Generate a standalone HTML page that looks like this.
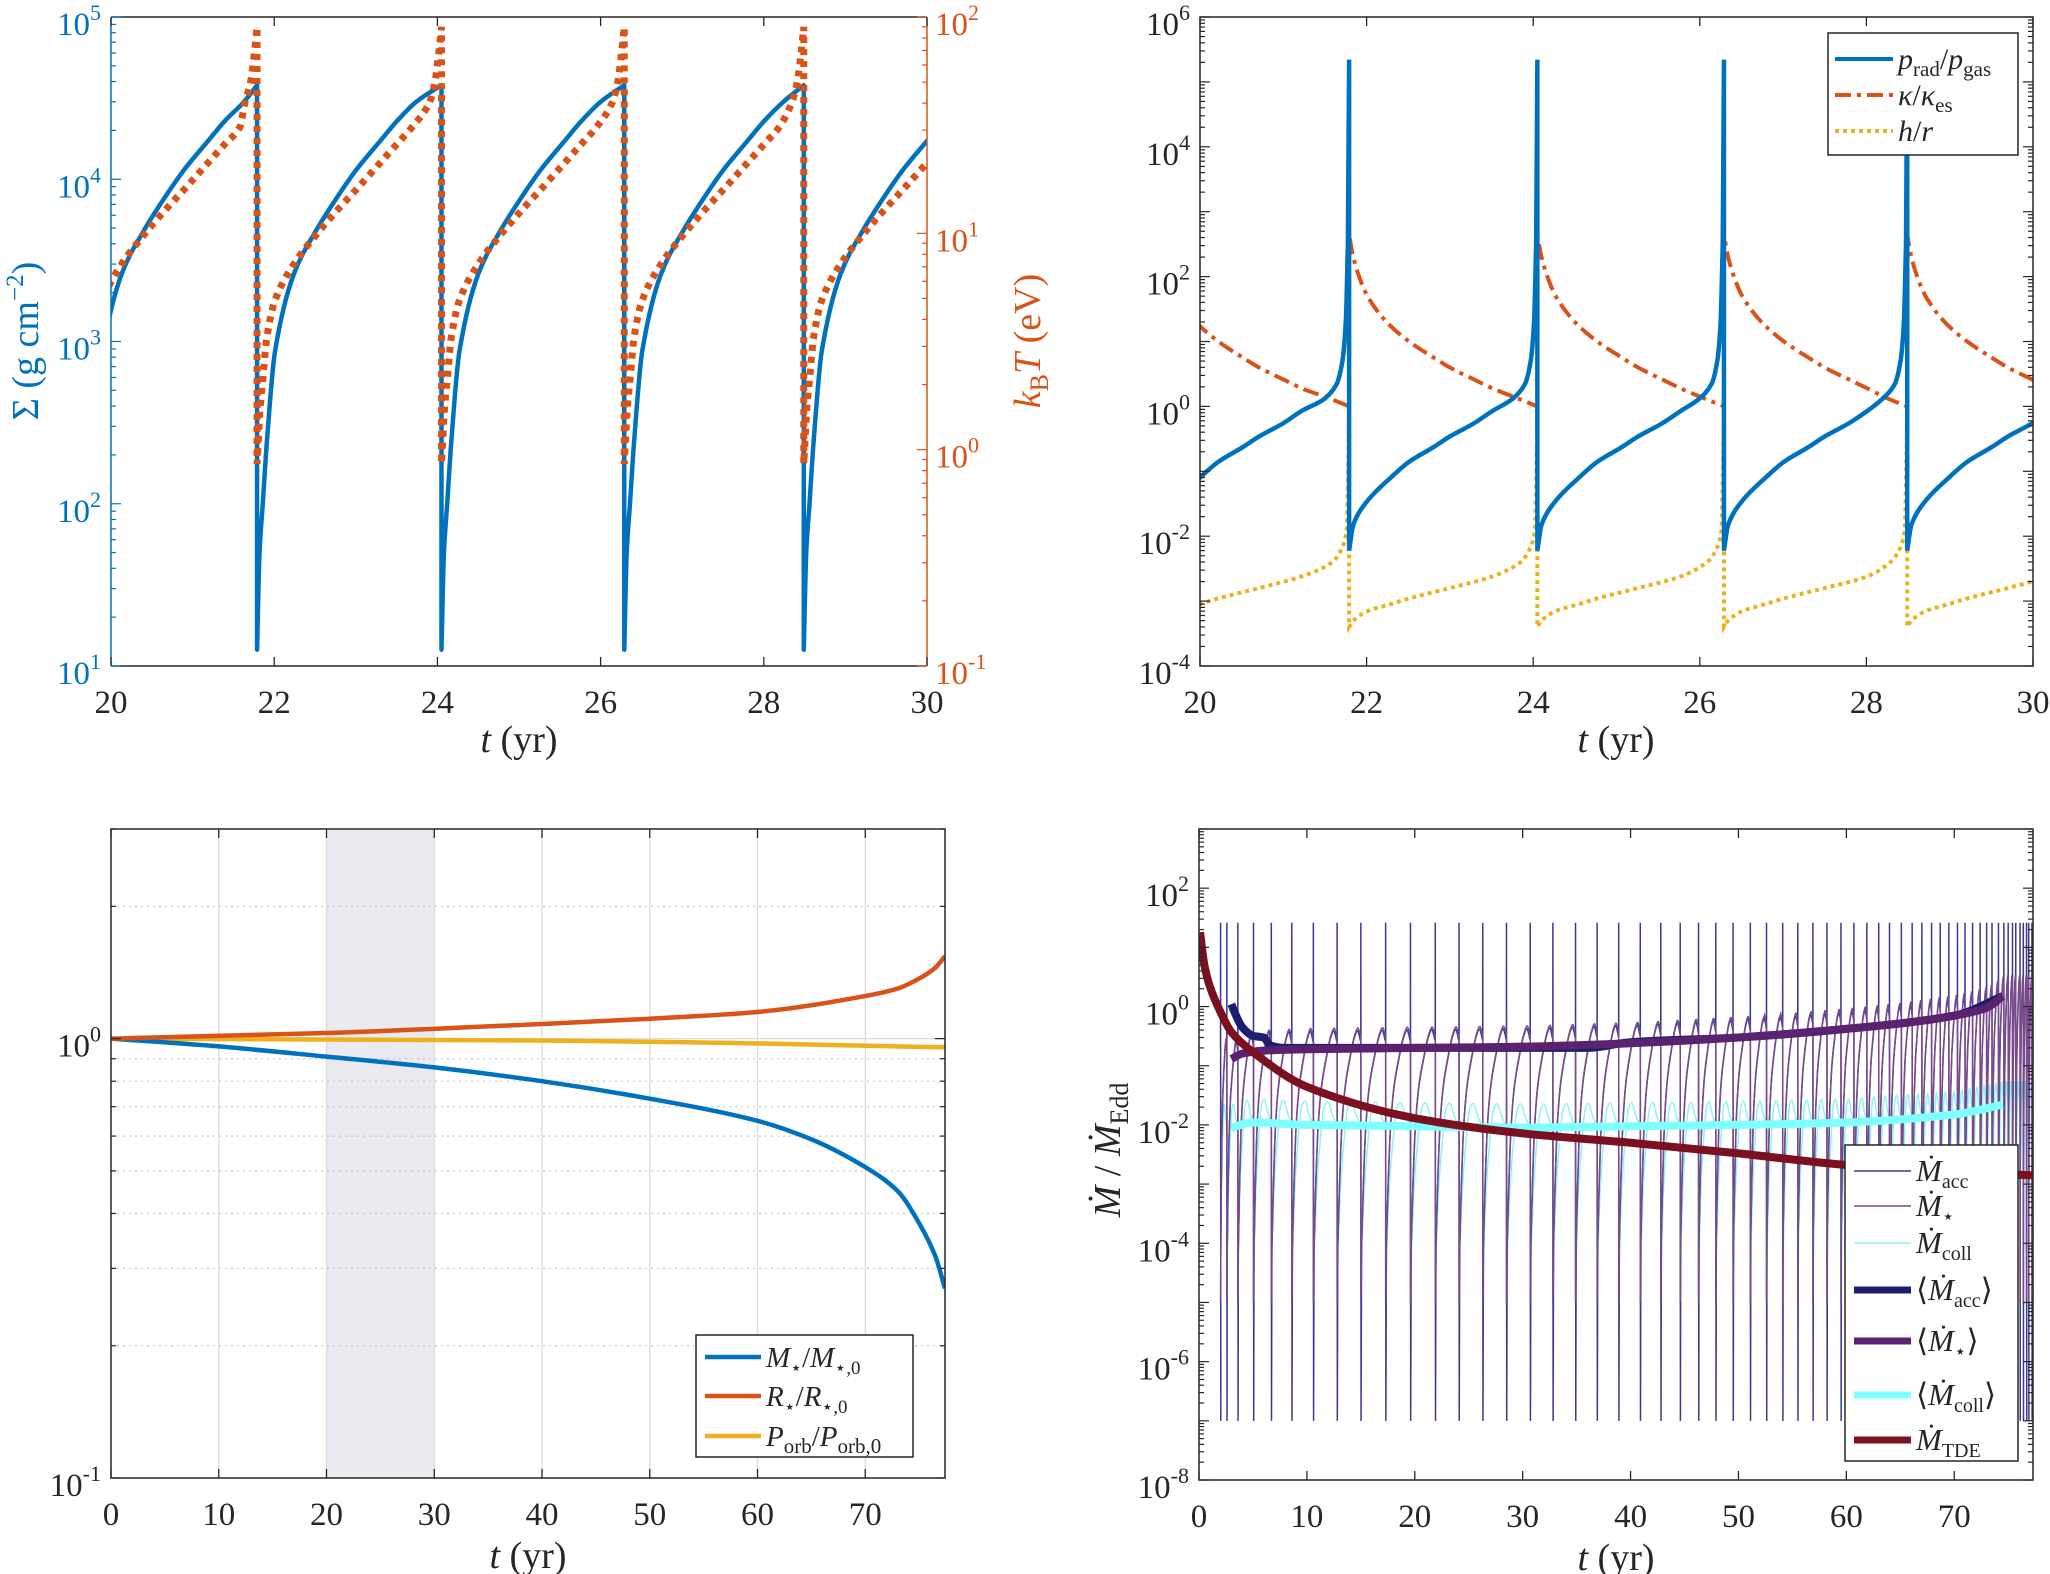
<!DOCTYPE html>
<html><head><meta charset="utf-8"><title>Four-panel disk evolution figure</title>
<style>
html,body{margin:0;padding:0;background:#fff;}
svg{display:block;font-family:"Liberation Serif","DejaVu Serif",serif;}
</style></head>
<body>
<svg id="fig" width="2050" height="1574" viewBox="0 0 2050 1574" xmlns="http://www.w3.org/2000/svg">
<defs>
<clipPath id="cTL"><rect x="111" y="17" width="816" height="649"/></clipPath>
<clipPath id="cTR"><rect x="1200" y="17" width="833" height="649"/></clipPath>
<clipPath id="cBL"><rect x="111" y="829" width="834" height="649"/></clipPath>
<clipPath id="cBR"><rect x="1199" y="829" width="834" height="651"/></clipPath>
</defs>
</svg>
<script>
// ---------- DATA: top-left panel (Sigma and kBT), cycle profiles ----------
const tlCycleStarts = [19.68, 21.79, 24.05, 26.29, 28.49];
const sigmaRiseOffsets = [0, 0.03, 0.07, 0.12, 0.22, 0.45, 0.72, 1.0, 1.22, 1.5, 1.72, 1.95];
const sigmaRiseValues = [12.6, 50, 100, 240, 870, 2600, 4800, 8000, 11500, 17000, 23000, 30000];
const sigmaPreOffsets = [0.0];
const sigmaPreValues = [38000];
const kTRiseOffsets = [0, 0.04, 0.07, 0.12, 0.22, 0.45, 0.72, 1.0, 1.22, 1.5, 1.72, 1.9];
const kTRiseValues = [0.86, 1.6, 2.1, 3.3, 4.9, 7.2, 9.8, 13, 16, 21, 26, 31];
const kTPreOffsets = [0.15, 0.08, 0.03, 0.0];
const kTPreValues = [40, 50, 70, 90];
// ---------- DATA: top-right panel ----------
const trCycleStarts = [19.5, 21.79, 24.05, 26.29, 28.49];
const pRiseOffsets = [0, 0.05, 0.22, 0.5, 0.72, 1.0, 1.22, 1.5, 1.72];
const pRiseValues = [0.006, 0.015, 0.035, 0.08, 0.14, 0.23, 0.35, 0.55, 0.85];
const pPreOffsets = [0.3, 0.15, 0.08, 0.04, 0.015, 0.0];
const pPreValues = [1.3, 2.2, 5, 20, 300, 2.2e5];
const kapRiseOffsets = [0, 0.05, 0.12, 0.22, 0.45, 0.72, 1.0, 1.22, 1.5, 1.72];
const kapRiseValues = [440, 200, 100, 50, 20, 10, 5.8, 3.9, 2.6, 1.9];
const kapPreOffsets = [0.25, 0.0];
const kapPreValues = [1.35, 1.0];
const hrRiseOffsets = [0, 0.05, 0.22, 0.5, 0.72, 1.22, 1.72];
const hrRiseValues = [4e-4, 5e-4, 7e-4, 9e-4, 1.1e-3, 1.6e-3, 2.4e-3];
const hrPreOffsets = [0.2, 0.1, 0.03, 0.008, 0.0];
const hrPreValues = [4e-3, 6e-3, 0.012, 0.2, 1.0];
// ---------- DATA: bottom-left panel ----------
const massT = [0, 10, 20, 30, 40, 50, 60, 65, 70, 73, 75, 76.5, 77.4];
const massV = [1, 0.96, 0.91, 0.86, 0.8, 0.73, 0.65, 0.59, 0.51, 0.45, 0.38, 0.32, 0.27];
const radT = [0, 20, 40, 50, 60, 70, 73, 75, 76.5, 77.4];
const radV = [1, 1.03, 1.08, 1.11, 1.15, 1.25, 1.3, 1.37, 1.45, 1.54];
const porbT = [0, 40, 60, 77.4];
const porbV = [1, 0.99, 0.975, 0.955];
// ---------- DATA: bottom-right panel ----------
const spikeTimes = [2.0, 2.58, 3.6, 5.05, 6.7, 8.6, 10.6, 12.8, 15.0, 17.3, 19.6, 21.9, 24.1, 26.3, 28.5, 30.7, 32.8, 34.9, 36.9, 38.9, 40.9, 42.8, 44.6, 46.3, 47.9, 49.5, 51.1, 52.6, 54.1, 55.5, 56.9, 58.2, 59.5, 60.7, 61.9, 63.0, 64.0, 65.1, 66.1, 67.0, 67.9, 68.7, 69.5, 70.3, 71.0, 71.7, 72.4, 73.0, 73.5, 74.1, 74.6, 75.0, 75.4, 75.7, 76.1, 76.4, 76.7, 76.9, 77.2];
const starFrac = [0, 0.03, 0.1, 0.2, 0.35, 0.55, 0.75, 0.88, 0.97, 1];
const starProfile = [1e-5, 1e-4, 1e-3, 0.01, 0.05, 0.15, 0.35, 0.45, 0.35, 0.3];
const collFrac = [0, 0.05, 0.15, 0.3, 0.45, 0.6, 0.8, 1];
const collProfile = [1e-5, 1e-4, 1e-3, 0.006, 0.02, 0.025, 0.015, 0.01];
const avgAccT = [3, 3.3, 4, 5, 6, 6.6, 8, 20, 36, 40, 50, 60, 70, 74.5];
const avgAccV = [1.1, 0.8, 0.45, 0.32, 0.3, 0.22, 0.2, 0.2, 0.2, 0.25, 0.3, 0.42, 0.7, 1.5];
const avgStarT = [3, 4, 6, 10, 20, 30, 40, 50, 60, 65, 70, 73, 74.5];
const avgStarV = [0.13, 0.16, 0.18, 0.19, 0.2, 0.21, 0.24, 0.3, 0.42, 0.52, 0.7, 0.95, 1.5];
const avgCollT = [3, 5, 10, 20, 30, 40, 50, 60, 70, 74.5];
const avgCollV = [0.009, 0.011, 0.01, 0.0095, 0.009, 0.0095, 0.01, 0.011, 0.015, 0.022];
const tdeT = [0.1, 0.5, 1, 2, 3, 5, 10, 20, 30, 40, 50, 60, 70, 77.3];
const tdeV = [18, 5, 2.2, 0.8, 0.37, 0.17, 0.044, 0.013, 0.0072, 0.005, 0.0033, 0.0021, 0.0016, 0.0014];
const accSpikeTop = 26;
const accSpikeBottom = 1e-7;

const NS = "http://www.w3.org/2000/svg";
const svg = document.getElementById('fig');
function mk(tag, attrs, parent) {
  const e = document.createElementNS(NS, tag);
  for (const k in attrs) e.setAttribute(k, attrs[k]);
  (parent || svg).appendChild(e);
  return e;
}
function lin(d0, d1, p0, p1) { return v => p0 + (v - d0) / (d1 - d0) * (p1 - p0); }
function logs(e0, e1, p0, p1) { return v => p0 + (Math.log10(v) - e0) / (e1 - e0) * (p1 - p0); }
function interpLog(ts, vs, t) {
  if (t <= ts[0]) return vs[0];
  for (let i = 1; i < ts.length; i++) if (t <= ts[i]) {
    const f = (t - ts[i-1]) / (ts[i] - ts[i-1]);
    return Math.pow(10, Math.log10(vs[i-1]) + f * (Math.log10(vs[i]) - Math.log10(vs[i-1])));
  }
  return vs[vs.length-1];
}
// monotone cubic smoothing in screen space; near-vertical segments drawn straight
function pathD(pts, sx, sy) {
  const P = pts.map(p => [sx(p[0]), sy(p[1])]);
  const n = P.length;
  if (n < 2) return '';
  const sec = [];
  for (let i = 0; i < n - 1; i++) {
    const dx = P[i+1][0] - P[i][0];
    sec.push(dx > 1.5 ? (P[i+1][1] - P[i][1]) / dx : null);
  }
  const m = [];
  for (let i = 0; i < n; i++) {
    const a = i > 0 ? sec[i-1] : null, b = i < n - 1 ? sec[i] : null;
    if (a === null && b === null) m.push(0);
    else if (a === null) m.push(b);
    else if (b === null) m.push(a);
    else if (a * b <= 0) m.push(0);
    else m.push(2 * a * b / (a + b));
  }
  let d = 'M' + P[0][0].toFixed(2) + ' ' + P[0][1].toFixed(2);
  for (let i = 0; i < n - 1; i++) {
    const x0 = P[i][0], y0 = P[i][1], x1 = P[i+1][0], y1 = P[i+1][1];
    if (sec[i] === null) { d += 'L' + x1.toFixed(2) + ' ' + y1.toFixed(2); continue; }
    const h = (x1 - x0) / 3;
    d += 'C' + (x0 + h).toFixed(2) + ' ' + (y0 + m[i] * h).toFixed(2) + ' ' + (x1 - h).toFixed(2) + ' ' + (y1 - m[i+1] * h).toFixed(2) + ' ' + x1.toFixed(2) + ' ' + y1.toFixed(2);
  }
  return d;
}
function cyclePoints(starts, tEnd, riseO, riseV, preO, preV) {
  const pts = [];
  for (let c = 0; c < starts.length; c++) {
    const s = starts[c];
    const isLast = c === starts.length - 1;
    const P = isLast ? 99 : starts[c+1] - s;
    const maxPre = Math.max(preO[0], 0.1);
    for (let i = 0; i < riseO.length; i++) {
      if (isLast ? (s + riseO[i] <= tEnd + 0.6) : (riseO[i] < P - maxPre)) pts.push([s + riseO[i], riseV[i]]);
    }
    if (!isLast) for (let i = 0; i < preO.length; i++) pts.push([s + P - preO[i], preV[i]]);
  }
  return pts;
}
function txt(x, y, str, size, anchor, color, parent, italic) {
  const e = mk('text', {x: x, y: y, 'font-size': size, 'text-anchor': anchor || 'start', fill: color || '#262626'}, parent);
  if (italic) e.setAttribute('font-style', 'italic');
  e.textContent = str;
  return e;
}
function powLabel(x, y, exp, anchor, color, parent) {
  const e = mk('text', {x: x, y: y, 'font-size': 33, 'text-anchor': anchor, fill: color}, parent);
  const a = mk('tspan', {}, e); a.textContent = '10';
  const b = mk('tspan', {dy: -15, 'font-size': 22}, e); b.textContent = String(exp);
  return e;
}
function axisBox(g, X0, X1, Y0, Y1, color) {
  mk('rect', {x: X0, y: Y0, width: X1 - X0, height: Y1 - Y0, fill: 'none', stroke: color || '#262626', 'stroke-width': 1.5}, g);
}
function xTicks(g, sx, vals, Y0, Y1, labelY) {
  vals.forEach(v => {
    const x = sx(v);
    mk('line', {x1: x, x2: x, y1: Y1, y2: Y1 - 9, stroke: '#262626', 'stroke-width': 1.3}, g);
    mk('line', {x1: x, x2: x, y1: Y0, y2: Y0 + 9, stroke: '#262626', 'stroke-width': 1.3}, g);
    const t = txt(x, labelY, String(v), 33, 'middle', '#262626', g);
    
    
  });
}
function yLogTicks(g, sy, e0, e1, xEdge, dir, color, minor) {
  for (let e = Math.floor(e0); e <= Math.ceil(e1); e++) {
    for (let m = 1; m <= 9; m++) {
      const v = m * Math.pow(10, e);
      const lv = Math.log10(v);
      if (lv < e0 - 1e-9 || lv > e1 + 1e-9) continue;
      if (m > 1 && !minor) continue;
      const y = sy(v);
      mk('line', {x1: xEdge, x2: xEdge + dir * (m === 1 ? 10 : 5), y1: y, y2: y, stroke: color, 'stroke-width': 1.2}, g);
    }
  }
}
function xlabel(g, cx, y) {
  const e = mk('text', {x: cx, y: y, 'font-size': 38, 'text-anchor': 'middle', fill: '#262626'}, g);
  const a = mk('tspan', {'font-style': 'italic'}, e); a.textContent = 't';
  const b = mk('tspan', {}, e); b.textContent = ' (yr)';
  
  
}

// ================= TOP LEFT =================
(function () {
  const X0 = 111, X1 = 927, Y0 = 17, Y1 = 666;
  const g = mk('g', {});
  
  
  const sx = lin(20, 30, X0, X1), syL = logs(1, 5, Y1, Y0), syR = logs(-1, 2, Y1, Y0);
  const pl = mk('g', {'clip-path': 'url(#cTL)'}, g);
  const sig = cyclePoints(tlCycleStarts, 30, sigmaRiseOffsets, sigmaRiseValues, sigmaPreOffsets, sigmaPreValues);
  const kT = cyclePoints(tlCycleStarts, 30, kTRiseOffsets, kTRiseValues, kTPreOffsets, kTPreValues);
  const l1 = mk('path', {d: pathD(sig, sx, syL), fill: 'none', stroke: '#0072BD', 'stroke-width': 4.5, 'stroke-linejoin': 'round'}, pl);
  
  
  const l2 = mk('path', {d: pathD(kT, sx, syR), fill: 'none', stroke: '#D95319', 'stroke-width': 7, 'stroke-dasharray': '6 6'}, pl);
  
  
  mk('line', {x1: X0, x2: X1, y1: Y0, y2: Y0, stroke: '#262626', 'stroke-width': 1.5}, g);
  mk('line', {x1: X0, x2: X1, y1: Y1, y2: Y1, stroke: '#262626', 'stroke-width': 1.5}, g);
  mk('line', {x1: X0, x2: X0, y1: Y0, y2: Y1, stroke: '#0072BD', 'stroke-width': 1.5}, g);
  mk('line', {x1: X1, x2: X1, y1: Y0, y2: Y1, stroke: '#D95319', 'stroke-width': 1.5}, g);
  xTicks(g, sx, [20, 22, 24, 26, 28, 30], Y0, Y1, 713);
  yLogTicks(g, syL, 1, 5, X0, 1, '#0072BD', true);
  yLogTicks(g, syR, -1, 2, X1, -1, '#D95319', true);
  for (let e = 1; e <= 5; e++) { const t = powLabel(X0 - 10, syL(Math.pow(10, e)) + 18, e, 'end', '#0072BD', g);   }
  for (let e = -1; e <= 2; e++) { const t = powLabel(X1 + 8, syR(Math.pow(10, e)) + 18, e, 'start', '#D95319', g);   }
  xlabel(g, 519, 752);
  const yl = mk('text', {transform: 'translate(38,341) rotate(-90)', 'font-size': 38, 'text-anchor': 'middle', fill: '#0072BD'}, g);
  yl.innerHTML = 'Σ (g cm<tspan dy="-15" font-size="25">−2</tspan><tspan dy="15">)</tspan>';
  
  
  const yr = mk('text', {transform: 'translate(1040,341) rotate(-90)', 'font-size': 38, 'text-anchor': 'middle', fill: '#D95319'}, g);
  yr.innerHTML = '<tspan font-style="italic">k</tspan><tspan dy="8" font-size="26">B</tspan><tspan dy="-8" font-style="italic">T</tspan> (eV)';
  
  
})();

// ================= TOP RIGHT =================
(function () {
  const X0 = 1200, X1 = 2033, Y0 = 17, Y1 = 666;
  const g = mk('g', {});
  
  
  const sx = lin(20, 30, X0, X1), sy = logs(-4, 6, Y1, Y0);
  const pl = mk('g', {'clip-path': 'url(#cTR)'}, g);
  const kap = cyclePoints(trCycleStarts, 30, kapRiseOffsets, kapRiseValues, kapPreOffsets, kapPreValues);
  const hr = cyclePoints(trCycleStarts, 30, hrRiseOffsets, hrRiseValues, hrPreOffsets, hrPreValues);
  const pr = cyclePoints(trCycleStarts, 30, pRiseOffsets, pRiseValues, pPreOffsets, pPreValues);
  const a = mk('path', {d: pathD(kap, sx, sy), fill: 'none', stroke: '#D95319', 'stroke-width': 4, 'stroke-dasharray': '16 6 4 6'}, pl);
  
  
  const b = mk('path', {d: pathD(hr, sx, sy), fill: 'none', stroke: '#EDB120', 'stroke-width': 4, 'stroke-dasharray': '4 4'}, pl);
  
  
  const c = mk('path', {d: pathD(pr, sx, sy), fill: 'none', stroke: '#0072BD', 'stroke-width': 4.5}, pl);
  
  
  axisBox(g, X0, X1, Y0, Y1);
  xTicks(g, sx, [20, 22, 24, 26, 28, 30], Y0, Y1, 713);
  yLogTicks(g, sy, -4, 6, X0, 1, '#262626', true);
  yLogTicks(g, sy, -4, 6, X1, -1, '#262626', true);
  for (let e = -4; e <= 6; e += 2) { const t = powLabel(X0 - 10, sy(Math.pow(10, e)) + 18, e, 'end', '#262626', g);   }
  xlabel(g, 1616, 752);
  const lg = mk('g', {}, g);
  
  
  mk('rect', {x: 1828, y: 33, width: 190, height: 122, fill: '#fff', stroke: '#262626', 'stroke-width': 1.5}, lg);
  const rows = [[59, '#0072BD', null, '<tspan font-style="italic">p</tspan><tspan dy="7" font-size="21">rad</tspan><tspan dy="-7">/</tspan><tspan font-style="italic">p</tspan><tspan dy="7" font-size="21">gas</tspan>'],
                [95, '#D95319', '16 6 4 6', '<tspan font-style="italic">κ</tspan>/<tspan font-style="italic">κ</tspan><tspan dy="7" font-size="21">es</tspan>'],
                [131, '#EDB120', '4 4', '<tspan font-style="italic">h</tspan>/<tspan font-style="italic">r</tspan>']];
  rows.forEach(r => {
    const ln = mk('line', {x1: 1835, x2: 1893, y1: r[0], y2: r[0], stroke: r[1], 'stroke-width': 4}, lg);
    if (r[2]) ln.setAttribute('stroke-dasharray', r[2]);
    
    
    const t = mk('text', {x: 1898, y: r[0] + 10, 'font-size': 30, fill: '#262626'}, lg);
    t.innerHTML = r[3];
    
    
  });
})();

// ================= BOTTOM LEFT =================
(function () {
  const X0 = 111, X1 = 945, Y0 = 829, Y1 = 1478;
  const g = mk('g', {});
  
  
  const sx = lin(0, 77.4, X0, X1), sy = logs(-1, Math.log10(3), Y1, Y0);
  const sh = mk('rect', {x: sx(20), y: Y0, width: sx(30) - sx(20), height: Y1 - Y0, fill: '#eaeaf0'}, g);
  
  
  [10, 20, 30, 40, 50, 60, 70].forEach(v => mk('line', {x1: sx(v), x2: sx(v), y1: Y0, y2: Y1, stroke: '#dcdcdc', 'stroke-width': 1.3}, g));
  [0.2, 0.3, 0.4, 0.5, 0.6, 0.7, 0.8, 0.9, 2].forEach(v => mk('line', {x1: X0, x2: X1, y1: sy(v), y2: sy(v), stroke: '#c8c8c8', 'stroke-width': 1.2, 'stroke-dasharray': '2 4'}, g));
  mk('line', {x1: X0, x2: X1, y1: sy(1), y2: sy(1), stroke: '#dcdcdc', 'stroke-width': 1.3}, g);
  const pl = mk('g', {'clip-path': 'url(#cBL)'}, g);
  const series = [[porbT, porbV, '#EDB120', 'orbital-period-line'], [massT, massV, '#0072BD', 'star-mass-line'], [radT, radV, '#D95319', 'star-radius-line']];
  series.forEach(s => {
    const pts = s[0].map((t, i) => [t, s[1][i]]);
    const p = mk('path', {d: pathD(pts, sx, sy), fill: 'none', stroke: s[2], 'stroke-width': 4.5}, pl);
    
    
  });
  axisBox(g, X0, X1, Y0, Y1);
  xTicks(g, sx, [0, 10, 20, 30, 40, 50, 60, 70], Y0, Y1, 1525);
  yLogTicks(g, sy, -1, Math.log10(3), X0, 1, '#262626', true);
  yLogTicks(g, sy, -1, Math.log10(3), X1, -1, '#262626', true);
  [-1, 0].forEach(e => { const t = powLabel(X0 - 10, sy(Math.pow(10, e)) + 18, e, 'end', '#262626', g);   });
  xlabel(g, 528, 1568);
  const lg = mk('g', {}, g);
  
  
  mk('rect', {x: 696, y: 1335, width: 217, height: 122, fill: '#fff', stroke: '#262626', 'stroke-width': 1.5}, lg);
  const rows = [[1357, '#0072BD', '<tspan font-style="italic">M</tspan><tspan dy="7" font-size="19">⋆</tspan><tspan dy="-7">/</tspan><tspan font-style="italic">M</tspan><tspan dy="7" font-size="19">⋆,0</tspan>'],
                [1396, '#D95319', '<tspan font-style="italic">R</tspan><tspan dy="7" font-size="19">⋆</tspan><tspan dy="-7">/</tspan><tspan font-style="italic">R</tspan><tspan dy="7" font-size="19">⋆,0</tspan>'],
                [1436, '#EDB120', '<tspan font-style="italic">P</tspan><tspan dy="7" font-size="21">orb</tspan><tspan dy="-7">/</tspan><tspan font-style="italic">P</tspan><tspan dy="7" font-size="21">orb,0</tspan>']];
  rows.forEach(r => {
    const ln = mk('line', {x1: 705, x2: 761, y1: r[0], y2: r[0], stroke: r[1], 'stroke-width': 4.5}, lg);
    
    
    const t = mk('text', {x: 766, y: r[0] + 10, 'font-size': 29, fill: '#262626'}, lg);
    t.innerHTML = r[2];
    
    
  });
})();

// ================= BOTTOM RIGHT =================
(function () {
  const X0 = 1199, X1 = 2033, Y0 = 829, Y1 = 1480;
  const g = mk('g', {});
  
  
  const sx = lin(0, 77.3, X0, X1), sy = logs(-8, 3, Y1, Y0);
  const pl = mk('g', {'clip-path': 'url(#cBR)'}, g);
  const tEnd = 77.3;
  const acc = [], star = [], coll = [];
  for (let i = 0; i < spikeTimes.length; i++) {
    const s = spikeTimes[i];
    const e = i + 1 < spikeTimes.length ? spikeTimes[i+1] : tEnd;
    const P = e - s;
    const ks = interpLog(avgStarT, avgStarV, s + P / 2) / 0.2;
    const kc = interpLog(avgCollT, avgCollV, s + P / 2) / 0.01;
    acc.push([s - 0.005, 0.3 * ks]); acc.push([s, accSpikeTop]); acc.push([s + 0.02, accSpikeBottom]);
    for (let j = 1; j < starFrac.length; j++) acc.push([s + starFrac[j] * P * 0.98, starProfile[j] * ks * 0.9]);
    for (let j = 0; j < starFrac.length; j++) star.push([s + starFrac[j] * P, Math.max(starProfile[j] * (j ? ks : 1), 1e-6)]);
    for (let j = 0; j < collFrac.length; j++) coll.push([s + collFrac[j] * P, collProfile[j] * (j ? kc : 1)]);
  }
  const thin = [[coll, '#8ef3f3', 'collision-rate-line'], [acc, '#3a3a94', 'accretion-rate-line'], [star, '#7a4a8c', 'stripping-rate-line']];
  thin.forEach(s => {
    const p = mk('path', {d: pathD(s[0], sx, sy), fill: 'none', stroke: s[1], 'stroke-width': 1.5}, pl);
    
    
  });
  const thick = [[avgCollT, avgCollV, '#80ffff', 'mean-collision-rate-line'], [avgAccT, avgAccV, '#1c1f6e', 'mean-accretion-rate-line'], [avgStarT, avgStarV, '#5b2270', 'mean-stripping-rate-line'], [tdeT, tdeV, '#7b1020', 'tde-rate-line']];
  thick.forEach(s => {
    const pts = s[0].map((t, i) => [t, s[1][i]]);
    const p = mk('path', {d: pathD(pts, sx, sy), fill: 'none', stroke: s[2], 'stroke-width': 8, 'stroke-linejoin': 'round'}, pl);
    
    
  });
  axisBox(g, X0, X1, Y0, Y1);
  xTicks(g, sx, [0, 10, 20, 30, 40, 50, 60, 70], Y0, Y1, 1527);
  yLogTicks(g, sy, -8, 3, X0, 1, '#262626', true);
  yLogTicks(g, sy, -8, 3, X1, -1, '#262626', true);
  for (let e = -8; e <= 2; e += 2) { const t = powLabel(X0 - 10, sy(Math.pow(10, e)) + 18, e, 'end', '#262626', g);   }
  xlabel(g, 1616, 1570);
  const yl = mk('text', {transform: 'translate(1120,1150) rotate(-90)', 'font-size': 38, 'text-anchor': 'middle', fill: '#262626'}, g);
  yl.innerHTML = '<tspan font-style="italic">Ṁ</tspan> / <tspan font-style="italic">Ṁ</tspan><tspan dy="8" font-size="26">Edd</tspan>';
  
  
  const lg = mk('g', {}, g);
  
  
  mk('rect', {x: 1845, y: 1145, width: 173, height: 316, fill: '#fff', stroke: '#262626', 'stroke-width': 1.5}, lg);
  const M = '<tspan font-style="italic">Ṁ</tspan>';
  const rows = [[1171, '#3a3a94', 1.5, M + '<tspan dy="7" font-size="20">acc</tspan>'],
                [1206, '#7a4a8c', 1.5, M + '<tspan dy="7" font-size="20">⋆</tspan>'],
                [1243, '#8ef3f3', 1.5, M + '<tspan dy="7" font-size="20">coll</tspan>'],
                [1290, '#1c1f6e', 7, '⟨' + M + '<tspan dy="7" font-size="20">acc</tspan><tspan dy="-7">⟩</tspan>'],
                [1341, '#5b2270', 7, '⟨' + M + '<tspan dy="7" font-size="20">⋆</tspan><tspan dy="-7">⟩</tspan>'],
                [1395, '#80ffff', 7, '⟨' + M + '<tspan dy="7" font-size="20">coll</tspan><tspan dy="-7">⟩</tspan>'],
                [1440, '#7b1020', 7, M + '<tspan dy="7" font-size="20">TDE</tspan>']];
  rows.forEach(r => {
    const ln = mk('line', {x1: 1854, x2: 1911, y1: r[0], y2: r[0], stroke: r[1], 'stroke-width': r[2]}, lg);
    
    
    const t = mk('text', {x: 1916, y: r[0] + 10, 'font-size': 31, fill: '#262626'}, lg);
    t.innerHTML = r[3];
    
    
  });
})();
</script>
</body></html>
